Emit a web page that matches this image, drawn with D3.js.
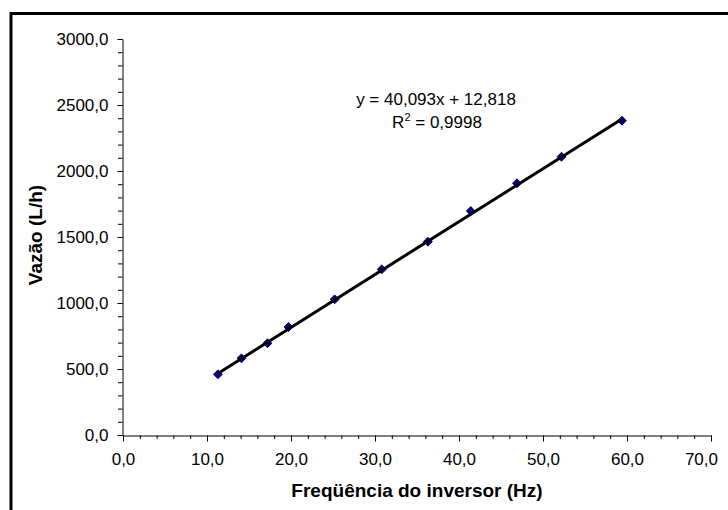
<!DOCTYPE html>
<html>
<head>
<meta charset="utf-8">
<script src="https://cdn.jsdelivr.net/npm/d3@7"></script>
<style>
  html, body { margin: 0; padding: 0; background: #fff; }
  svg { display: block; }
  text { font-family: "Liberation Sans", Arial, sans-serif; fill: #000; }
</style>
</head>
<body>
<svg id="chart" width="728" height="510"></svg>
<script>
// Measured inverter frequency (Hz) and resulting flow rate (L/h)
const frequency = [11.3, 14.1, 17.2, 19.7, 25.2, 30.8, 36.3, 41.4, 46.9, 52.2, 59.4];
const flow      = [460, 581, 695, 818, 1028, 1255, 1464, 1697, 1907, 2108, 2381];

// Linear fit shown on the chart
const slope = 40.093;
const intercept = 12.818;
const rSquared = 0.9998;

// Axis ticks
const xTicks = [0, 10, 20, 30, 40, 50, 60, 70];
const yTicks = [0, 500, 1000, 1500, 2000, 2500, 3000];
const xMinorTicks = d3.range(0, 70.001, 2);
const yMinorTicks = d3.range(0, 3000.001, 100);

const xTitle = "Freqüência do inversor (Hz)";
const yTitle = "Vazão (L/h)";

const fmt = v => v.toFixed(1).replace(".", ",");
const fmt3 = v => v.toFixed(3).replace(".", ",");
const fmt4 = v => v.toFixed(4).replace(".", ",");

const svg = d3.select("#chart");

// Outer chart frame
svg.append("rect")
  .attr("x", 11).attr("y", 13.5)
  .attr("width", 760).attr("height", 560)
  .attr("fill", "#fff").attr("stroke", "#000").attr("stroke-width", 3);

const plot = { left: 123, right: 711, top: 39, bottom: 435 };

const x = d3.scaleLinear().domain([0, 70]).range([plot.left, plot.right]);
const y = d3.scaleLinear().domain([0, 3000]).range([plot.bottom, plot.top]);

// Minor ticks
svg.append("g")
  .attr("transform", `translate(0,${plot.bottom + 0.5})`)
  .call(d3.axisBottom(x).tickValues(xMinorTicks).tickSize(3.5).tickFormat(""))
  .call(g => g.select(".domain").remove())
  .call(g => g.selectAll("line").attr("stroke", "#000"));
svg.append("g")
  .attr("transform", `translate(${plot.left - 0.5},0)`)
  .call(d3.axisLeft(y).tickValues(yMinorTicks).tickSize(4.5).tickFormat(""))
  .call(g => g.select(".domain").remove())
  .call(g => g.selectAll("line").attr("stroke", "#000"));

// Major axes
const xAxis = svg.append("g")
  .attr("transform", `translate(0,${plot.bottom + 0.5})`)
  .call(d3.axisBottom(x).tickValues(xTicks).tickSize(6).tickSizeOuter(0).tickPadding(11).tickFormat(fmt));
xAxis.select(".domain").attr("stroke", "#000");
xAxis.selectAll("line").attr("stroke", "#000");
xAxis.selectAll("text").attr("font-size", 17).attr("font-family", null).attr("fill", "#000");

const yAxis = svg.append("g")
  .attr("transform", `translate(${plot.left - 0.5},0)`)
  .call(d3.axisLeft(y).tickValues(yTicks).tickSize(5).tickSizeOuter(0).tickPadding(9).tickFormat(fmt));
yAxis.select(".domain").attr("stroke", "#000");
yAxis.selectAll("line").attr("stroke", "#000");
yAxis.selectAll("text").attr("font-size", 17).attr("font-family", null).attr("fill", "#000");

// Keep the last x label inside the chart area
xAxis.selectAll(".tick text").each(function () {
  const b = this.getBBox();
  const tx = +this.parentNode.getAttribute("transform").match(/translate\(([-\d.]+)/)[1];
  const right = tx + b.x + b.width;
  if (right > 718) this.setAttribute("x", 718 - right);
});

// Data markers (diamonds)
svg.append("g")
  .selectAll("path")
  .data(frequency.map((f, i) => [f, flow[i]]))
  .join("path")
  .attr("transform", d => `translate(${x(d[0])},${y(d[1])})`)
  .attr("d", d3.symbol(d3.symbolDiamond2, 50))
  .attr("fill", "#000080")
  .attr("stroke", "#000080")
  .attr("stroke-width", 1);

// Linear trendline over the measured range
const xExt = d3.extent(frequency);
svg.append("line")
  .attr("x1", x(xExt[0])).attr("y1", y(slope * xExt[0] + intercept))
  .attr("x2", x(xExt[1])).attr("y2", y(slope * xExt[1] + intercept))
  .attr("stroke", "#000").attr("stroke-width", 3);

// Trendline equation
svg.append("text")
  .attr("x", 436).attr("y", 105)
  .attr("text-anchor", "middle").attr("font-size", 17)
  .text(`y = ${fmt3(slope)}x + ${fmt3(intercept)}`);
const r2 = svg.append("text")
  .attr("x", 437).attr("y", 127.5)
  .attr("text-anchor", "middle").attr("font-size", 17);
r2.append("tspan").text("R");
r2.append("tspan").attr("font-size", 11).attr("dy", -7).text("2");
r2.append("tspan").attr("dy", 7).text(` = ${fmt4(rSquared)}`);

// Axis titles
svg.append("text")
  .attr("x", (plot.left + plot.right) / 2).attr("y", 497)
  .attr("text-anchor", "middle").attr("font-size", 19).attr("font-weight", "bold")
  .text(xTitle);
svg.append("text")
  .attr("transform", `translate(42,${(plot.top + plot.bottom) / 2 - 2}) rotate(-90)`)
  .attr("text-anchor", "middle").attr("font-size", 19).attr("font-weight", "bold")
  .text(yTitle);
</script>
</body>
</html>
